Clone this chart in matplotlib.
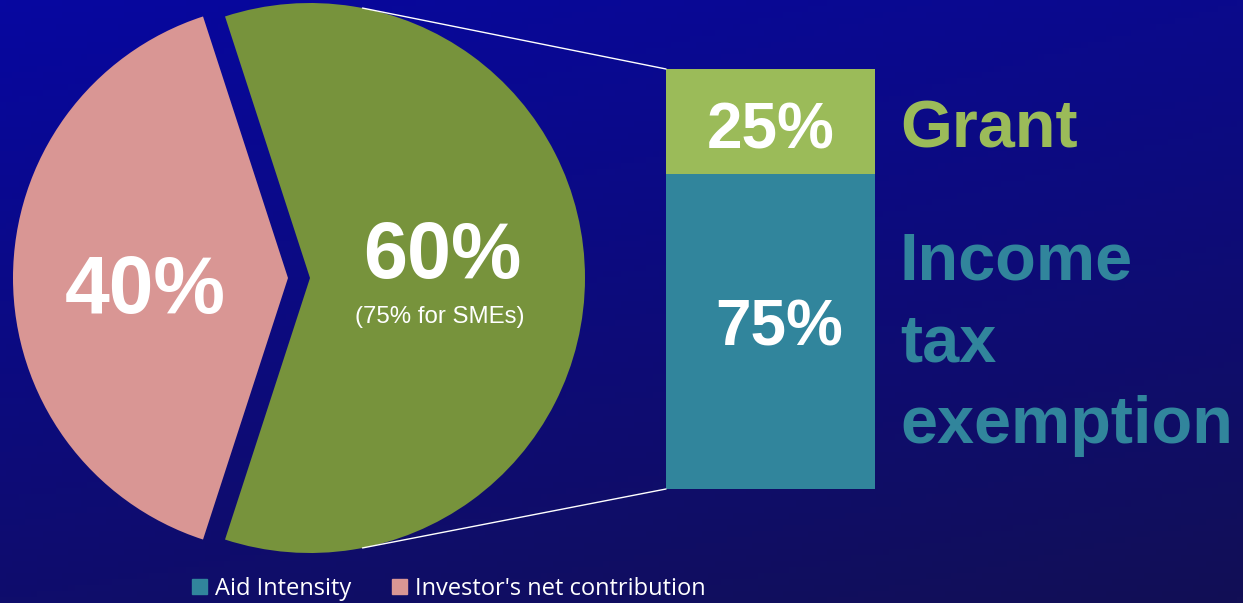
import numpy as np
import matplotlib
matplotlib.use("Agg")
import matplotlib.pyplot as plt
from matplotlib.patches import Patch, ConnectionPatch

# data
pie_labels = ["Investor's net contribution", "Aid Intensity"]
pie_values = [40, 60]
bar_labels = ["Income tax exemption", "Grant"]
bar_values = [75, 25]
pie_note = "(75% for SMEs)"

pink = "#d99694"
green = "#77933c"
lightgreen = "#9bbb59"
teal = "#31859c"

W, H = 1243, 603
fig = plt.figure(figsize=(W / 100, H / 100), dpi=100)
ax = fig.add_axes([0, 0, 1, 1])

# background gradient (bilinear between the four corners)
tl = np.array([0x07, 0x07, 0xa0]) / 255
tr = np.array([0x0b, 0x0a, 0x8c]) / 255
bl = np.array([0x0f, 0x0d, 0x6c]) / 255
br = np.array([0x12, 0x0f, 0x55]) / 255
xs = np.linspace(0, 1, 200)[None, :, None]
ys = np.linspace(0, 1, 100)[:, None, None]
grad = (tl * (1 - xs) * (1 - ys) + tr * xs * (1 - ys)
        + bl * (1 - xs) * ys + br * xs * ys)
ax.imshow(grad, extent=(0, W, 0, H), origin="upper", aspect="auto", zorder=0)

# pie, in pixel units
wedges, _ = ax.pie(pie_values, colors=[pink, green], startangle=108,
                   center=(299, H - 278), radius=275, explode=[11, 11],
                   wedgeprops=dict(linewidth=0))
for w in wedges:
    w.set_zorder(2)

big = dict(family="Liberation Sans", weight="bold", color="white",
           ha="center", va="baseline", zorder=5)
ax.text(145, H - 313, f"{pie_values[0]}%", fontsize=58, **big)
ax.text(442, H - 278, f"{pie_values[1]}%", fontsize=57, **big)
ax.text(440, H - 323, pie_note, family="Liberation Sans", fontsize=17.3,
        color="white", ha="center", va="baseline", zorder=5)

ax.set_xlim(0, W)
ax.set_ylim(0, H)
ax.set_aspect("auto")
ax.axis("off")

# stacked bar
bx = fig.add_axes([666 / W, (H - 489) / H, 209 / W, 420 / H])
bx.bar(0, bar_values[0], width=1, color=teal, linewidth=0)
bx.bar(0, bar_values[1], width=1, bottom=bar_values[0], color=lightgreen,
       linewidth=0)
bx.set_xlim(-0.5, 0.5)
bx.set_ylim(0, sum(bar_values))
bx.axis("off")
bx.patch.set_alpha(0)

bl_big = dict(family="Liberation Sans", weight="bold", color="white",
              ha="center", va="baseline", fontsize=46)
bx.text(0.0, bar_values[0] + bar_values[1] / 2 - 6.5, f"{bar_values[1]}%",
        **bl_big)
bx.text(0.04, bar_values[0] / 2 - 3.3, f"{bar_values[0]}%", **bl_big)

# side labels
side = dict(family="Liberation Sans", weight="bold", fontsize=48,
            ha="left", va="baseline")
ax.text(900, H - 148, bar_labels[1], color=lightgreen, **side)
for i, word in enumerate(bar_labels[0].split()):
    ax.text(900, H - 279 - i * 82, word, color=teal, **side)

# connector lines from green wedge to bar corners
g = wedges[1]
cx, cy = g.center
r = g.r
for ang, ybar in [(79, sum(bar_values)), (-79, 0)]:
    p = (cx + r * np.cos(np.radians(ang)), cy + r * np.sin(np.radians(ang)))
    con = ConnectionPatch(xyA=(-0.5, ybar), coordsA=bx.transData,
                          xyB=p, coordsB=ax.transData,
                          color="white", linewidth=1.0)
    fig.add_artist(con)

# legend
handles = [Patch(color=teal, label=pie_labels[1]),
           Patch(color=pink, label=pie_labels[0])]
leg = fig.legend(handles=handles, loc="center", ncol=2, frameon=False,
                 bbox_to_anchor=(449 / W, 14 / H), handlelength=0.6,
                 handleheight=0.6, handletextpad=0.35, columnspacing=1.75,
                 prop=dict(family="Open Sans", size=17))
for t in leg.get_texts():
    t.set_color("white")

fig.savefig("out.png", dpi=100)
